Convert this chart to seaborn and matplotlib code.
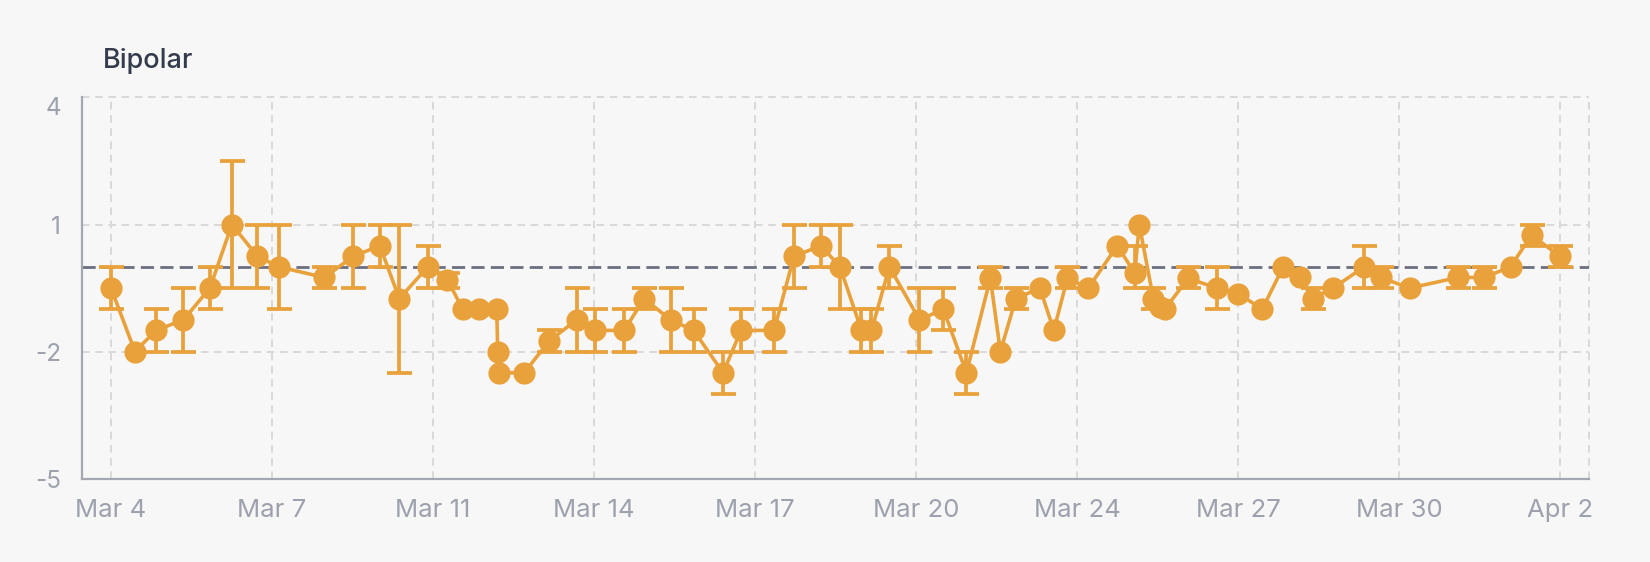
import numpy as np
import pandas as pd
import matplotlib
matplotlib.use("Agg")
import matplotlib.pyplot as plt
import matplotlib.transforms as mtransforms
import seaborn as sns

# ---------------- data ----------------
title = "Bipolar"

# time of each entry, in days after the first entry (Mar 4, afternoon)
day = [0.00, 0.48, 0.90, 1.45, 1.98, 2.42, 2.93, 3.36, 4.27, 4.85,
       5.38, 5.77, 6.34, 6.73, 7.04, 7.37, 7.72, 7.74, 7.76, 8.27,
       8.77, 9.32, 9.69, 10.27, 10.67, 11.20, 11.66, 12.25, 12.61, 13.27,
       13.67, 14.21, 14.59, 15.02, 15.22, 15.58, 16.18, 16.66, 17.12, 17.60,
       17.80, 18.11, 18.59, 18.87, 19.14, 19.56, 20.14, 20.49, 20.58, 20.86,
       20.99, 21.09, 21.56, 22.13, 22.56, 23.04, 23.46, 23.79, 24.05, 24.46,
       25.08, 25.41, 25.99, 26.96, 27.48, 28.01, 28.43, 29.00]

mood = [-0.5, -2.0, -1.5, -1.25, -0.5, 1.0, 0.25, 0.0, -0.25, 0.25,
        0.5, -0.75, 0.0, -0.3, -1.0, -1.0, -1.0, -2.0, -2.5, -2.5,
        -1.75, -1.25, -1.5, -1.5, -0.75, -1.25, -1.5, -2.5, -1.5, -1.5,
        0.25, 0.5, 0.0, -1.5, -1.5, 0.0, -1.25, -1.0, -2.5, -0.27,
        -2.0, -0.75, -0.5, -1.5, -0.27, -0.5, 0.5, -0.15, 1.0, -0.75,
        -0.95, -1.0, -0.27, -0.5, -0.63, -1.0, 0.0, -0.25, -0.75, -0.5,
        0.0, -0.25, -0.5, -0.25, -0.25, 0.0, 0.75, 0.25]

nan = np.nan
err_low = [-1.0, nan, -2.0, -2.0, -1.0, -0.5, -0.5, -1.0, -0.5, -0.5,
           0.0, -2.5, -0.5, -0.5, nan, nan, nan, nan, nan, nan,
           -2.0, -2.0, -2.0, -2.0, -1.0, -2.0, -2.0, -3.0, -2.0, -2.0,
           -0.5, 0.0, -1.0, -2.0, -2.0, -0.5, -2.0, -1.5, -3.0, -0.5,
           nan, -1.0, nan, nan, -0.5, nan, nan, -0.5, nan, -1.0,
           nan, nan, -0.5, -1.0, nan, nan, nan, nan, -1.0, nan,
           -0.5, -0.5, nan, -0.5, -0.5, nan, 0.5, 0.0]

err_high = [0.0, nan, -1.0, -0.5, 0.0, 2.5, 1.0, 1.0, 0.0, 1.0,
            1.0, 1.0, 0.5, -0.15, nan, nan, nan, nan, nan, nan,
            -1.5, -0.5, -1.0, -1.0, -0.5, -0.5, -1.0, -2.0, -1.0, -1.0,
            1.0, 1.0, 1.0, -1.0, -1.0, 0.5, -0.5, -0.5, -2.0, 0.0,
            nan, -0.5, nan, nan, 0.0, nan, nan, 0.5, nan, -0.5,
            nan, nan, 0.0, 0.0, nan, nan, nan, nan, -0.5, nan,
            0.5, 0.0, nan, 0.0, 0.0, nan, 1.0, 0.5]

x_tick_labels = ["Mar 4", "Mar 7", "Mar 11", "Mar 14", "Mar 17",
                 "Mar 20", "Mar 24", "Mar 27", "Mar 30", "Apr 2"]
y_ticks = [-5, -2, 1, 4]
baseline = 0

# ---------------- style ----------------
BG = "#f7f7f7"
ORANGE = "#e9a23b"
GRID = "#d9d9d9"
AXIS = "#a3a7b2"
TICK = "#9ca1ad"
TITLE_C = "#333b4c"
ZERO = "#6b7080"

sns.set_theme(style="white")
plt.rcParams["font.family"] = ["Inter", "DejaVu Sans"]
plt.rcParams["axes.unicode_minus"] = False
plt.rcParams["lines.scale_dashes"] = False

df = pd.DataFrame({"day": day, "mood": mood, "lo": err_low, "hi": err_high})

fig = plt.figure(figsize=(16.5, 5.62), dpi=100, facecolor=BG)
ax = fig.add_axes([82 / 1650, 1 - 478.6 / 562, (1589 - 82) / 1650, (478.6 - 97.5) / 562])
ax.set_facecolor(BG)

span = df["day"].max() - df["day"].min()
pad = span * 29 / (1560 - 111)
x0, x1 = df["day"].min() - pad, df["day"].max() + pad
ax.set_xlim(x0, x1)
ax.set_ylim(min(y_ticks), max(y_ticks))

# grid
grid_kw = dict(color=GRID, lw=1.4, ls=(0, (5.5, 4.0)), zorder=0, clip_on=False)
xticks = np.linspace(df["day"].min(), df["day"].max(), len(x_tick_labels))
for xt in xticks:
    ax.axvline(xt, **grid_kw)
ax.axvline(x1, **grid_kw)
for yt in y_ticks:
    if yt != min(y_ticks):
        ax.axhline(yt, **grid_kw)

# baseline
ax.axhline(baseline, color=ZERO, lw=2.0, ls=(0, (9.5, 4.5)), zorder=1)

# error bars
e = df.dropna(subset=["lo", "hi"])
ax.errorbar(e["day"], e["mood"], yerr=[e["mood"] - e["lo"], e["hi"] - e["mood"]],
            fmt="none", ecolor=ORANGE, elinewidth=2.7, capsize=9, capthick=2.7, zorder=2)

# line + points
sns.lineplot(data=df, x="day", y="mood", ax=ax, color=ORANGE, lw=2.6,
             marker="o", markersize=16, markeredgewidth=0,
             estimator=None, sort=False, zorder=3)

ax.set_xticks(xticks)
ax.set_xticklabels(x_tick_labels)
ax.set_yticks(y_ticks)
ax.set_xlabel("")
ax.set_ylabel("")
ax.tick_params(axis="x", length=0, pad=15, labelsize=18.5, labelcolor=TICK)
ax.tick_params(axis="y", length=0, pad=15, labelsize=17.5, labelcolor=TICK)

# the top y label sits a little below its gridline in the reference
top_lbl = ax.get_yticklabels()[-1]
top_lbl.set_transform(top_lbl.get_transform() +
                      mtransforms.ScaledTranslation(0, -6 / 72, fig.dpi_scale_trans))

for s in ["top", "right"]:
    ax.spines[s].set_visible(False)
for s in ["left", "bottom"]:
    ax.spines[s].set_color(AXIS)
    ax.spines[s].set_linewidth(1.6)
    ax.spines[s].set_zorder(1.5)

fig.text(103 / 1650, 1 - 68.5 / 562, title, fontsize=19.5, color=TITLE_C,
         fontweight="medium", ha="left", va="baseline")

fig.savefig("out.png", dpi=100, facecolor=BG)
